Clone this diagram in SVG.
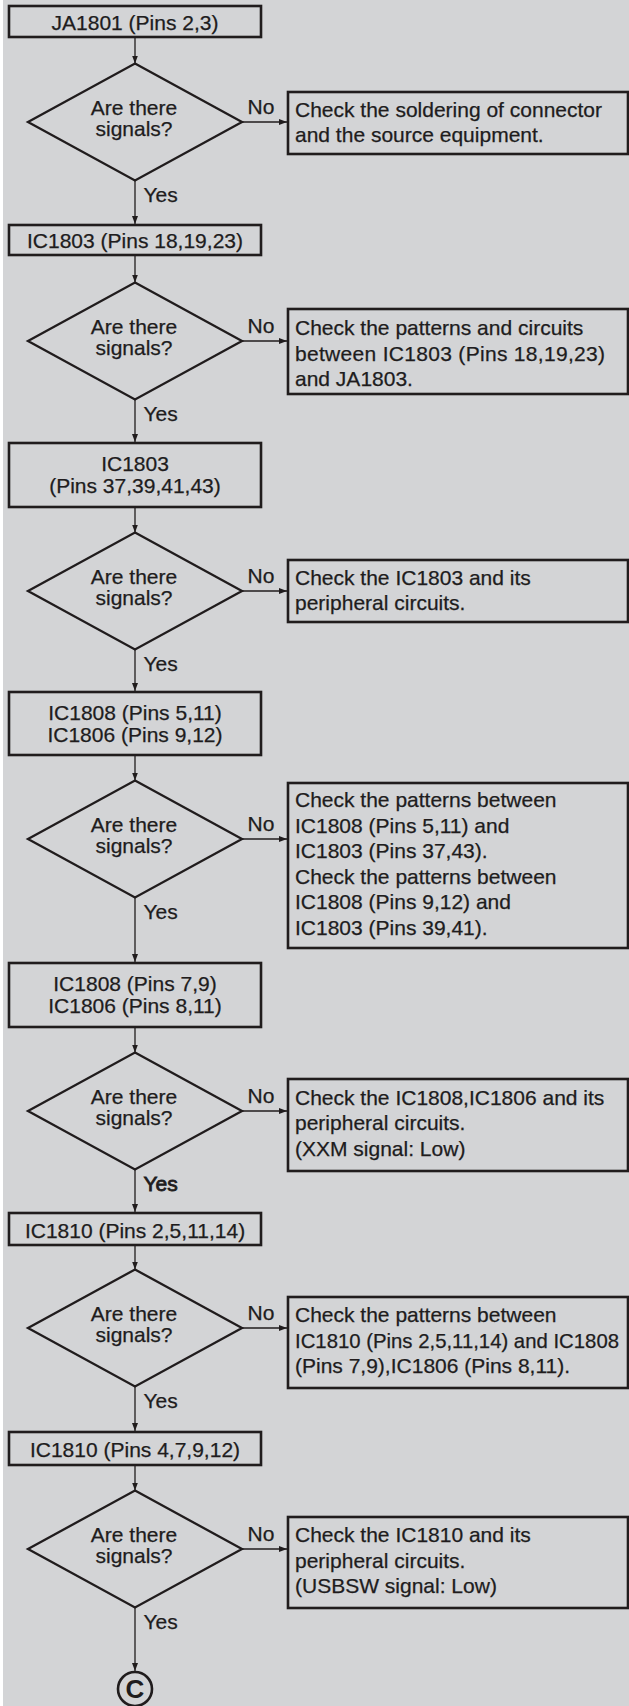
<svg xmlns="http://www.w3.org/2000/svg" width="629" height="1706" viewBox="0 0 629 1706">
<defs>
<style>
.bx{fill:none;stroke:#201c1d;stroke-width:2.6}
.dm{fill:none;stroke:#201c1d;stroke-width:2.3}
.w{fill:none;stroke:#201c1d;stroke-width:1.3}
.t{font-family:"Liberation Sans",Arial,Helvetica,sans-serif;font-size:21px;fill:#201c1d;stroke:#201c1d;stroke-width:0.25}
.m{text-anchor:middle}
</style>
<marker id="ah" markerUnits="userSpaceOnUse" markerWidth="8" markerHeight="6" viewBox="0 0 8 6" refX="8" refY="3" orient="auto"><path d="M0,0 L8,3 L0,6 z" fill="#201c1d"/></marker>
</defs>
<rect x="0" y="0" width="629" height="1706" fill="#ffffff"/>
<rect x="3" y="0" width="626" height="1706" fill="#d3d4d6"/>

<g id="connectors">
<g class="w" marker-end="url(#ah)">
<line x1="135" y1="37" x2="135" y2="63.5"/>
<line x1="135" y1="180.5" x2="135" y2="224"/>
<line x1="135" y1="255" x2="135" y2="282.5"/>
<line x1="135" y1="399.5" x2="135" y2="442"/>
<line x1="135" y1="507" x2="135" y2="532.5"/>
<line x1="135" y1="649.5" x2="135" y2="691"/>
<line x1="135" y1="755" x2="135" y2="780.5"/>
<line x1="135" y1="897.5" x2="135" y2="962"/>
<line x1="135" y1="1027" x2="135" y2="1052.5"/>
<line x1="135" y1="1169.5" x2="135" y2="1212"/>
<line x1="135" y1="1245" x2="135" y2="1269.5"/>
<line x1="135" y1="1386.5" x2="135" y2="1431"/>
<line x1="135" y1="1465" x2="135" y2="1490.5"/>
<line x1="135" y1="1607.5" x2="135" y2="1671"/>
<line x1="242" y1="122" x2="287" y2="122"/>
<line x1="242" y1="341" x2="287" y2="341"/>
<line x1="242" y1="591" x2="287" y2="591"/>
<line x1="242" y1="839" x2="287" y2="839"/>
<line x1="242" y1="1111" x2="287" y2="1111"/>
<line x1="242" y1="1328" x2="287" y2="1328"/>
<line x1="242" y1="1549" x2="287" y2="1549"/>
</g>
<g class="t">
<text x="247.5" y="114">No</text>
<text x="247.5" y="333">No</text>
<text x="247.5" y="583">No</text>
<text x="247.5" y="831">No</text>
<text x="247.5" y="1103">No</text>
<text x="247.5" y="1320">No</text>
<text x="247.5" y="1541">No</text>
<text x="143.5" y="201.5">Yes</text>
<text x="143.5" y="420.5">Yes</text>
<text x="143.5" y="670.5">Yes</text>
<text x="143.5" y="918.5">Yes</text>
<text x="143.5" y="1190.5" style="stroke-width:0.8">Yes</text>
<text x="143.5" y="1407.5">Yes</text>
<text x="143.5" y="1628.5">Yes</text>
</g>
</g>

<g id="b1"><rect class="bx" x="9" y="6" width="252" height="31"/><text class="t m" x="135" y="30">JA1801 (Pins 2,3)</text></g>
<g id="d1"><path class="dm" d="M135,63.5 L242,122 L135,180.5 L28,122 Z"/><text class="t m" x="134" y="115">Are there</text><text class="t m" x="134" y="136">signals?</text></g>
<g id="r1"><rect class="bx" x="288" y="92" width="340" height="62"/><text class="t" x="295" y="117">Check the soldering of connector</text><text class="t" x="295" y="142">and the source equipment.</text></g>

<g id="b2"><rect class="bx" x="9" y="225" width="252" height="30"/><text class="t m" x="135" y="248">IC1803 (Pins 18,19,23)</text></g>
<g id="d2"><path class="dm" d="M135,282.5 L242,341 L135,399.5 L28,341 Z"/><text class="t m" x="134" y="334">Are there</text><text class="t m" x="134" y="355">signals?</text></g>
<g id="r2"><rect class="bx" x="288" y="309" width="340" height="85"/><text class="t" x="295" y="335">Check the patterns and circuits</text><text class="t" x="295" y="360.5" textLength="310" lengthAdjust="spacing">between IC1803 (Pins 18,19,23)</text><text class="t" x="295" y="386">and JA1803.</text></g>

<g id="b3"><rect class="bx" x="9" y="443" width="252" height="64"/><text class="t m" x="135" y="471">IC1803</text><text class="t m" x="135" y="493">(Pins 37,39,41,43)</text></g>
<g id="d3"><path class="dm" d="M135,532.5 L242,591 L135,649.5 L28,591 Z"/><text class="t m" x="134" y="584">Are there</text><text class="t m" x="134" y="605">signals?</text></g>
<g id="r3"><rect class="bx" x="288" y="560" width="340" height="62"/><text class="t" x="295" y="585">Check the IC1803 and its</text><text class="t" x="295" y="610">peripheral circuits.</text></g>

<g id="b4"><rect class="bx" x="9" y="692" width="252" height="63"/><text class="t m" x="135" y="720">IC1808 (Pins 5,11)</text><text class="t m" x="135" y="742">IC1806 (Pins 9,12)</text></g>
<g id="d4"><path class="dm" d="M135,780.5 L242,839 L135,897.5 L28,839 Z"/><text class="t m" x="134" y="832">Are there</text><text class="t m" x="134" y="853">signals?</text></g>
<g id="r4"><rect class="bx" x="288" y="783" width="340" height="165"/><text class="t" x="295" y="807">Check the patterns between</text><text class="t" x="295" y="832.5">IC1808 (Pins 5,11) and</text><text class="t" x="295" y="858">IC1803 (Pins 37,43).</text><text class="t" x="295" y="883.5">Check the patterns between</text><text class="t" x="295" y="909">IC1808 (Pins 9,12) and</text><text class="t" x="295" y="934.5">IC1803 (Pins 39,41).</text></g>

<g id="b5"><rect class="bx" x="9" y="963" width="252" height="64"/><text class="t m" x="135" y="991">IC1808 (Pins 7,9)</text><text class="t m" x="135" y="1013">IC1806 (Pins 8,11)</text></g>
<g id="d5"><path class="dm" d="M135,1052.5 L242,1111 L135,1169.5 L28,1111 Z"/><text class="t m" x="134" y="1104">Are there</text><text class="t m" x="134" y="1125">signals?</text></g>
<g id="r5"><rect class="bx" x="288" y="1079" width="340" height="92"/><text class="t" x="295" y="1104.5">Check the IC1808,IC1806 and its</text><text class="t" x="295" y="1130">peripheral circuits.</text><text class="t" x="295" y="1155.5">(XXM signal: Low)</text></g>

<g id="b6"><rect class="bx" x="9" y="1213" width="252" height="32"/><text class="t m" x="135" y="1238">IC1810 (Pins 2,5,11,14)</text></g>
<g id="d6"><path class="dm" d="M135,1269.5 L242,1328 L135,1386.5 L28,1328 Z"/><text class="t m" x="134" y="1321">Are there</text><text class="t m" x="134" y="1342">signals?</text></g>
<g id="r6"><rect class="bx" x="288" y="1297" width="340" height="91"/><text class="t" x="295" y="1322">Check the patterns between</text><text class="t" x="295" y="1347.5" textLength="324" lengthAdjust="spacingAndGlyphs">IC1810 (Pins 2,5,11,14) and IC1808</text><text class="t" x="295" y="1373">(Pins 7,9),IC1806 (Pins 8,11).</text></g>

<g id="b7"><rect class="bx" x="9" y="1432" width="252" height="33"/><text class="t m" x="135" y="1457">IC1810 (Pins 4,7,9,12)</text></g>
<g id="d7"><path class="dm" d="M135,1490.5 L242,1549 L135,1607.5 L28,1549 Z"/><text class="t m" x="134" y="1542">Are there</text><text class="t m" x="134" y="1563">signals?</text></g>
<g id="r7"><rect class="bx" x="288" y="1517" width="340" height="91"/><text class="t" x="295" y="1542">Check the IC1810 and its</text><text class="t" x="295" y="1567.5">peripheral circuits.</text><text class="t" x="295" y="1593">(USBSW signal: Low)</text></g>

<g id="c"><circle cx="135" cy="1689" r="17" fill="none" stroke="#201c1d" stroke-width="2.6"/><text x="135" y="1698" text-anchor="middle" font-family="Liberation Sans,Arial,sans-serif" font-weight="bold" font-size="26" fill="#201c1d">C</text></g>
</svg>
